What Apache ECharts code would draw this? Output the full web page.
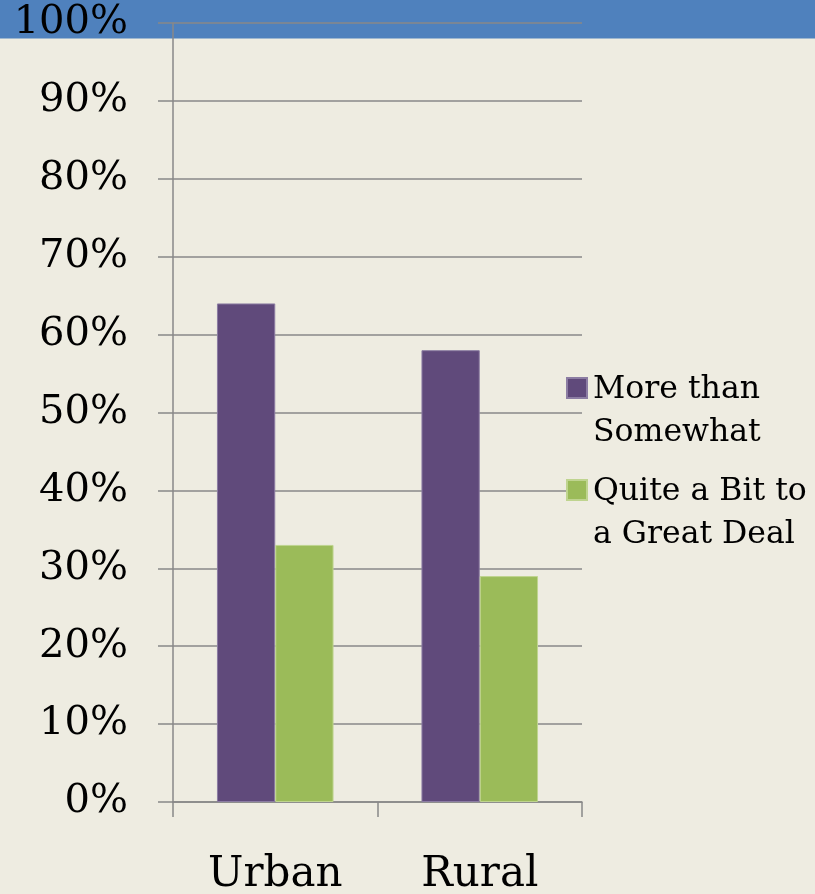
<!DOCTYPE html>
<html>
<head>
<meta charset="utf-8">
<title>Urban vs Rural</title>
<script src="https://cdn.jsdelivr.net/npm/echarts@6/dist/echarts.min.js"></script>
<style>
  html, body { margin: 0; padding: 0; background: #EEECE1; }
  #chart { width: 815px; height: 894px; }
</style>
</head>
<body>
<div id="chart"></div>
<script>
// Share of respondents by area
const categories = ['Urban', 'Rural'];
const moreThanSomewhat = [64, 58];
const quiteABitToGreatDeal = [33, 29];
const seriesNames = ['More than\nSomewhat', 'Quite a Bit to\na Great Deal'];
const yMax = 100;
const yStep = 10;

const axisGrey = '#888888';
const serif = 'DejaVu Serif';

// Legend marker: a square aligned with the first text line, padded to cover two lines
const legendIcon = 'path://M0,10H20V30H0Z M0,0 M21,0 M0,86';

const chart = echarts.init(document.getElementById('chart'), null, { renderer: 'canvas' });

chart.setOption({
  backgroundColor: '#EEECE1',
  animation: false,
  graphic: [{
    type: 'rect',
    z: -10,
    left: 0,
    top: 0,
    shape: { width: 815, height: 38.5 },
    style: { fill: '#4F81BD' },
    silent: true
  }],
  grid: { left: 173, right: 233, top: 23, bottom: 92, containLabel: false, outerBoundsMode: 'none' },
  legend: {
    orient: 'vertical',
    left: 566,
    top: 367,
    padding: 0,
    itemGap: 14,
    itemWidth: 21,
    itemHeight: 86,
    icon: legendIcon,
    selectedMode: false,
    textStyle: { fontFamily: serif, fontSize: 31.5, lineHeight: 43, color: '#000' },
    data: seriesNames
  },
  xAxis: {
    type: 'category',
    data: categories,
    axisLine: { show: true, lineStyle: { color: axisGrey, width: 1.5 } },
    axisTick: { show: true, length: 15, lineStyle: { color: axisGrey, width: 1.5 } },
    axisLabel: { margin: 52, fontFamily: serif, fontSize: 42, color: '#000' }
  },
  yAxis: {
    type: 'value',
    min: 0,
    max: yMax,
    interval: yStep,
    axisLine: { show: true, lineStyle: { color: axisGrey, width: 1.5 } },
    axisTick: { show: true, length: 15, lineStyle: { color: axisGrey, width: 1.5 } },
    splitLine: { show: true, lineStyle: { color: axisGrey, width: 1.5 } },
    axisLabel: { margin: 45, fontFamily: serif, fontSize: 40, color: '#000', formatter: '{value}%' }
  },
  series: [
    {
      name: seriesNames[0],
      type: 'bar',
      data: moreThanSomewhat,
      barGap: '0%',
      barCategoryGap: '43%',
      itemStyle: { color: '#604A7B', borderColor: '#8C7DA3', borderWidth: 1 }
    },
    {
      name: seriesNames[1],
      type: 'bar',
      data: quiteABitToGreatDeal,
      itemStyle: { color: '#9BBB59', borderColor: '#BFD48F', borderWidth: 1 }
    }
  ]
});
</script>
</body>
</html>
